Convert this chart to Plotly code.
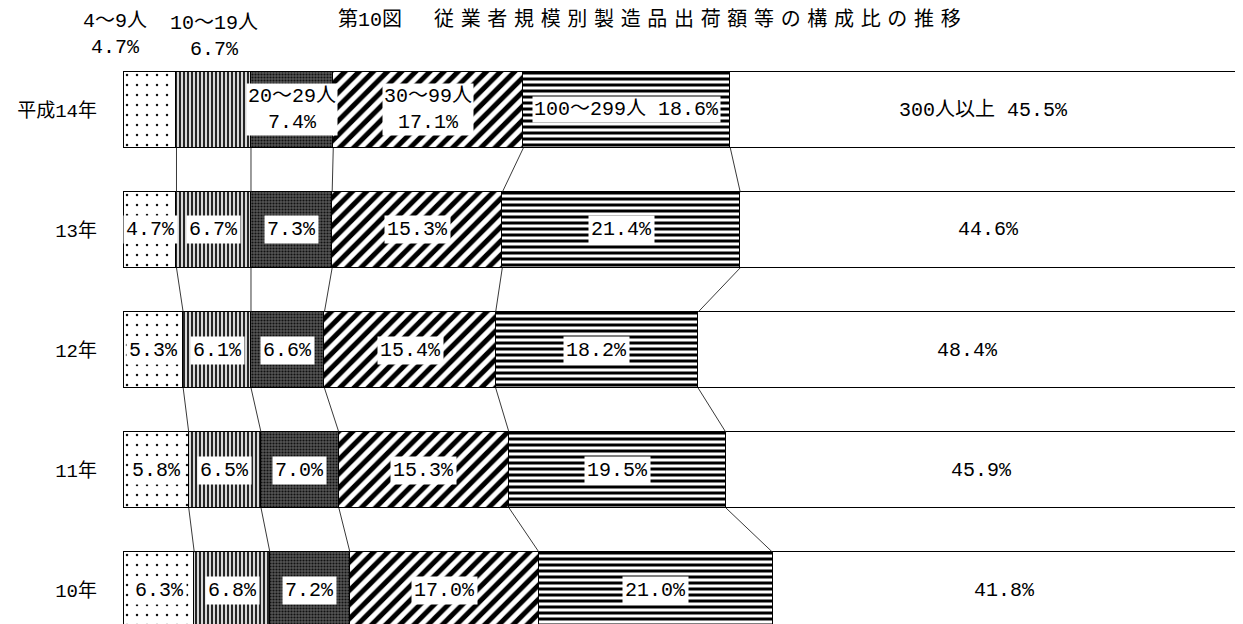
import plotly.graph_objects as go

years = ["平成14年", "13年", "12年", "11年", "10年"]
groups = ["4～9人", "10～19人", "20～29人", "30～99人", "100～299人", "300人以上"]
s_4_9 = [4.7, 4.7, 5.3, 5.8, 6.3]
s_10_19 = [6.7, 6.7, 6.1, 6.5, 6.8]
s_20_29 = [7.4, 7.3, 6.6, 7.0, 7.2]
s_30_99 = [17.1, 15.3, 15.4, 15.3, 17.0]
s_100_299 = [18.6, 21.4, 18.2, 19.5, 21.0]
s_300 = [45.5, 44.6, 48.4, 45.9, 41.8]
series = [s_4_9, s_10_19, s_20_29, s_30_99, s_100_299, s_300]

FONT = "Liberation Mono, Noto Sans CJK JP"
W = 0.63
rows = list(range(len(years)))

patterns = [
    dict(shape=".", fgcolor="#111", bgcolor="white", size=10, solidity=0.05, fgopacity=1),
    dict(shape="|", fgcolor="#111", bgcolor="#d8d8d8", size=4, solidity=0.45, fgopacity=1),
    dict(shape=".", fgcolor="#111", bgcolor="#555555", size=3, solidity=0.4, fgopacity=1),
    dict(shape="/", fgcolor="#000", bgcolor="white", size=10, solidity=0.5, fgopacity=1),
    dict(shape="-", fgcolor="#000", bgcolor="white", size=6, solidity=0.5, fgopacity=1),
    None,
]

fig = go.Figure()
for vals, name, pat in zip(series, groups, patterns):
    marker = dict(color="white", line=dict(color="black", width=1.5))
    if pat is not None:
        marker["pattern"] = pat
    fig.add_trace(go.Bar(x=vals, y=rows, orientation="h", width=W, name=name,
                         marker=marker, showlegend=False, hoverinfo="skip"))

# cumulative boundaries
cum = []
for r in rows:
    acc, b = 0.0, []
    for s in series:
        acc += s[r]
        b.append(acc)
    cum.append(b)

# connecting lines between consecutive bars
for r in rows[:-1]:
    for k in range(len(series) - 1):
        fig.add_trace(go.Scatter(
            x=[cum[r][k], cum[r + 1][k]], y=[r + W / 2, r + 1 - W / 2],
            mode="lines", line=dict(color="#222", width=0.9),
            showlegend=False, hoverinfo="skip"))

lab_font = dict(family=FONT, size=20, color="black")
annotations = []
for r in rows:
    starts = [0.0] + cum[r][:-1]
    for k, s in enumerate(series):
        cx = starts[k] + s[r] / 2
        if r == 0:
            if k == 0:
                annotations.append(dict(x=cx, y=r - W / 2, yanchor="bottom", xshift=-35, yshift=11,
                                        text="4～9人<br>4.7%", showarrow=False, font=lab_font))
                continue
            if k == 1:
                annotations.append(dict(x=cx, y=r - W / 2, yanchor="bottom", xshift=0, yshift=9,
                                        text="10～19人<br>6.7%", showarrow=False, font=lab_font))
                continue
            if k in (2, 3):
                txt = f"{groups[k]}<br>{s[r]:.1f}%"
            else:
                txt = f"{groups[k]} {s[r]:.1f}%"
            annotations.append(dict(x=cx, y=r, text=txt, showarrow=False,
                                    bgcolor="white", borderpad=1, font=lab_font))
        else:
            annotations.append(dict(x=cx, y=r, text=f"{s[r]:.1f}%", showarrow=False,
                                    bgcolor="white", borderpad=2, font=lab_font))

title_txt = "第10図　 " + "\u2004".join("従業者規模別製造品出荷額等の構成比の推移")
annotations.append(dict(xref="paper", yref="paper", x=0.472, y=1.0, yanchor="middle", yshift=20,
                        text=title_txt, showarrow=False,
                        font=dict(family=FONT, size=20, color="black")))

fig.update_layout(
    width=1235, height=616,
    margin=dict(l=114, r=4, t=32, b=0, autoexpand=False),
    paper_bgcolor="white", plot_bgcolor="white",
    barmode="stack", bargap=0,
    annotations=annotations,
    xaxis=dict(range=[-0.2, 100.25], visible=False, fixedrange=True, automargin=False),
    yaxis=dict(range=[4.283, -0.583], tickvals=rows, ticktext=years, automargin=False,
               showgrid=False, zeroline=False, showline=False, ticks="",
               ticklabelstandoff=24,
               tickfont=dict(family=FONT, size=19, color="black")),
    font=dict(family=FONT),
)

fig.write_html("out.html")
